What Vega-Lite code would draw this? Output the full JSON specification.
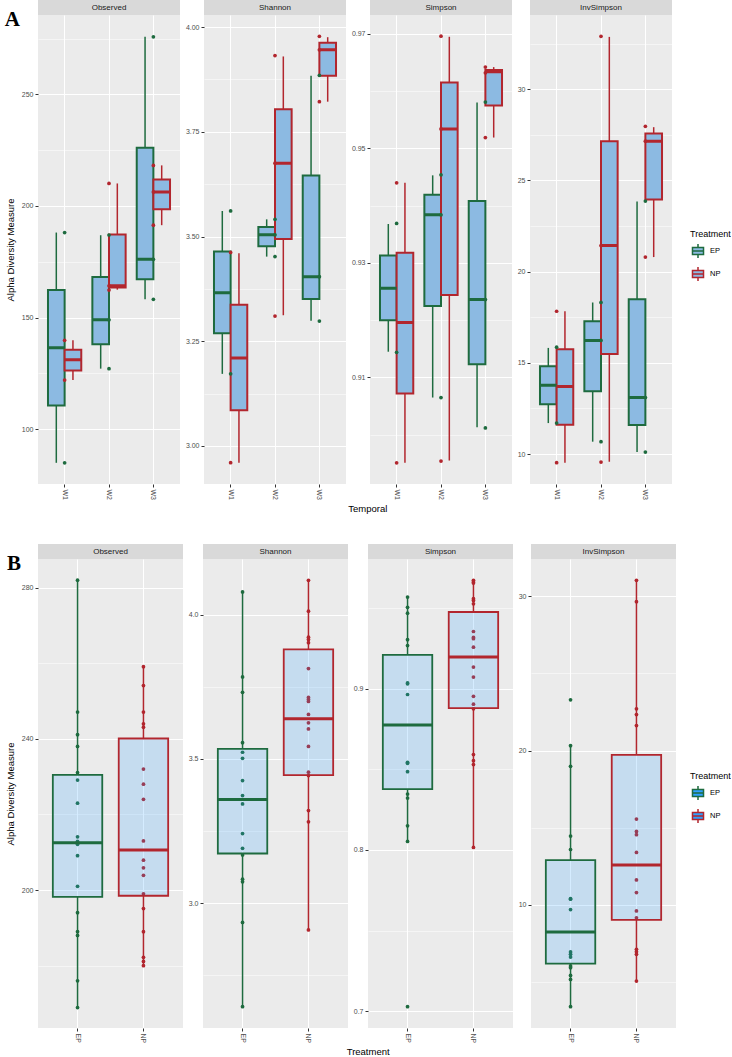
{
"$schema":"https://vega.github.io/schema/vega-lite/v6.json",
"padding":{"left":4,"top":0,"right":0,"bottom":0},
"config":{"font":"Liberation Sans","view":{"stroke":null},
 "axis":{"labelFont":"Liberation Sans","labelFontSize":7,"labelColor":"#4D4D4D","tickColor":"#333333","tickSize":3,"domain":false,"gridColor":"#FFFFFF","labelPadding":2,"titleFont":"Liberation Sans","titleFontSize":9.5,"titleFontWeight":"normal","titleColor":"#000000","labelOverlap":false,"labelFlush":false},
 "legend":{"titleFontSize":9,"titleFontWeight":"normal","titleColor":"#000000","titleFont":"Liberation Sans","labelFontSize":7.5,"labelColor":"#000000","labelFont":"Liberation Sans"},
 "title":{"font":"Liberation Sans","fontSize":9.5,"fontWeight":"normal","color":"#000000"}},
"datasets":{
"boxA":[
{"measure":"Observed","Temporal":"W1","Treatment":"EP","lo":84.9,"q1":110.6,"med":136.5,"q3":162.4,"hi":188.1},
{"measure":"Observed","Temporal":"W1","Treatment":"NP","lo":122.0,"q1":126.3,"med":131.1,"q3":135.6,"hi":139.8},
{"measure":"Observed","Temporal":"W2","Treatment":"EP","lo":127.1,"q1":138.0,"med":149.0,"q3":168.2,"hi":186.9},
{"measure":"Observed","Temporal":"W2","Treatment":"NP","lo":162.5,"q1":163.5,"med":164.2,"q3":187.2,"hi":210.1},
{"measure":"Observed","Temporal":"W3","Treatment":"EP","lo":158.2,"q1":167.2,"med":176.1,"q3":226.1,"hi":275.8},
{"measure":"Observed","Temporal":"W3","Treatment":"NP","lo":191.4,"q1":198.5,"med":206.3,"q3":211.9,"hi":218.2},
{"measure":"Shannon","Temporal":"W1","Treatment":"EP","lo":3.172,"q1":3.269,"med":3.366,"q3":3.464,"hi":3.561},
{"measure":"Shannon","Temporal":"W1","Treatment":"NP","lo":2.960,"q1":3.085,"med":3.210,"q3":3.337,"hi":3.460},
{"measure":"Shannon","Temporal":"W2","Treatment":"EP","lo":3.452,"q1":3.477,"med":3.504,"q3":3.523,"hi":3.541},
{"measure":"Shannon","Temporal":"W2","Treatment":"NP","lo":3.312,"q1":3.494,"med":3.675,"q3":3.804,"hi":3.930},
{"measure":"Shannon","Temporal":"W3","Treatment":"EP","lo":3.299,"q1":3.351,"med":3.404,"q3":3.646,"hi":3.884},
{"measure":"Shannon","Temporal":"W3","Treatment":"NP","lo":3.822,"q1":3.884,"med":3.946,"q3":3.963,"hi":3.976},
{"measure":"Simpson","Temporal":"W1","Treatment":"EP","lo":0.9145,"q1":0.9200,"med":0.9256,"q3":0.9313,"hi":0.9368},
{"measure":"Simpson","Temporal":"W1","Treatment":"NP","lo":0.8951,"q1":0.9072,"med":0.9196,"q3":0.9318,"hi":0.9440},
{"measure":"Simpson","Temporal":"W2","Treatment":"EP","lo":0.9065,"q1":0.9225,"med":0.9384,"q3":0.9419,"hi":0.9453},
{"measure":"Simpson","Temporal":"W2","Treatment":"NP","lo":0.8955,"q1":0.9244,"med":0.9534,"q3":0.9615,"hi":0.9695},
{"measure":"Simpson","Temporal":"W3","Treatment":"EP","lo":0.9013,"q1":0.9123,"med":0.9236,"q3":0.9408,"hi":0.9580},
{"measure":"Simpson","Temporal":"W3","Treatment":"NP","lo":0.9519,"q1":0.9575,"med":0.9634,"q3":0.9637,"hi":0.9642},
{"measure":"InvSimpson","Temporal":"W1","Treatment":"EP","lo":11.70,"q1":12.73,"med":13.78,"q3":14.81,"hi":15.82},
{"measure":"InvSimpson","Temporal":"W1","Treatment":"NP","lo":9.53,"q1":11.61,"med":13.70,"q3":15.75,"hi":17.83},
{"measure":"InvSimpson","Temporal":"W2","Treatment":"EP","lo":10.68,"q1":13.45,"med":16.23,"q3":17.28,"hi":18.31},
{"measure":"InvSimpson","Temporal":"W2","Treatment":"NP","lo":9.58,"q1":15.48,"med":21.43,"q3":27.15,"hi":32.87},
{"measure":"InvSimpson","Temporal":"W3","Treatment":"EP","lo":10.11,"q1":11.59,"med":13.10,"q3":18.49,"hi":23.85},
{"measure":"InvSimpson","Temporal":"W3","Treatment":"NP","lo":20.80,"q1":23.96,"med":27.15,"q3":27.58,"hi":27.92}
],
"ptsA":[
{"measure":"Observed","Temporal":"W1","Treatment":"EP","value":188.1},
{"measure":"Observed","Temporal":"W1","Treatment":"EP","value":84.9},
{"measure":"Observed","Temporal":"W1","Treatment":"NP","value":139.8},
{"measure":"Observed","Temporal":"W1","Treatment":"NP","value":122.0},
{"measure":"Observed","Temporal":"W2","Treatment":"EP","value":187.0},
{"measure":"Observed","Temporal":"W2","Treatment":"EP","value":149.0},
{"measure":"Observed","Temporal":"W2","Treatment":"EP","value":127.1},
{"measure":"Observed","Temporal":"W2","Treatment":"NP","value":210.1},
{"measure":"Observed","Temporal":"W2","Treatment":"NP","value":164.2},
{"measure":"Observed","Temporal":"W2","Treatment":"NP","value":162.3},
{"measure":"Observed","Temporal":"W3","Treatment":"EP","value":275.8},
{"measure":"Observed","Temporal":"W3","Treatment":"EP","value":176.1},
{"measure":"Observed","Temporal":"W3","Treatment":"EP","value":158.2},
{"measure":"Observed","Temporal":"W3","Treatment":"NP","value":218.2},
{"measure":"Observed","Temporal":"W3","Treatment":"NP","value":206.3},
{"measure":"Observed","Temporal":"W3","Treatment":"NP","value":191.4},
{"measure":"Shannon","Temporal":"W1","Treatment":"EP","value":3.561},
{"measure":"Shannon","Temporal":"W1","Treatment":"EP","value":3.172},
{"measure":"Shannon","Temporal":"W1","Treatment":"NP","value":3.462},
{"measure":"Shannon","Temporal":"W1","Treatment":"NP","value":2.960},
{"measure":"Shannon","Temporal":"W2","Treatment":"EP","value":3.541},
{"measure":"Shannon","Temporal":"W2","Treatment":"EP","value":3.504},
{"measure":"Shannon","Temporal":"W2","Treatment":"EP","value":3.452},
{"measure":"Shannon","Temporal":"W2","Treatment":"NP","value":3.932},
{"measure":"Shannon","Temporal":"W2","Treatment":"NP","value":3.675},
{"measure":"Shannon","Temporal":"W2","Treatment":"NP","value":3.310},
{"measure":"Shannon","Temporal":"W3","Treatment":"EP","value":3.885},
{"measure":"Shannon","Temporal":"W3","Treatment":"EP","value":3.404},
{"measure":"Shannon","Temporal":"W3","Treatment":"EP","value":3.298},
{"measure":"Shannon","Temporal":"W3","Treatment":"NP","value":3.978},
{"measure":"Shannon","Temporal":"W3","Treatment":"NP","value":3.946},
{"measure":"Shannon","Temporal":"W3","Treatment":"NP","value":3.822},
{"measure":"Simpson","Temporal":"W1","Treatment":"EP","value":0.9369},
{"measure":"Simpson","Temporal":"W1","Treatment":"EP","value":0.9144},
{"measure":"Simpson","Temporal":"W1","Treatment":"NP","value":0.9440},
{"measure":"Simpson","Temporal":"W1","Treatment":"NP","value":0.8951},
{"measure":"Simpson","Temporal":"W2","Treatment":"EP","value":0.9454},
{"measure":"Simpson","Temporal":"W2","Treatment":"EP","value":0.9384},
{"measure":"Simpson","Temporal":"W2","Treatment":"EP","value":0.9065},
{"measure":"Simpson","Temporal":"W2","Treatment":"NP","value":0.9696},
{"measure":"Simpson","Temporal":"W2","Treatment":"NP","value":0.9534},
{"measure":"Simpson","Temporal":"W2","Treatment":"NP","value":0.8954},
{"measure":"Simpson","Temporal":"W3","Treatment":"EP","value":0.9581},
{"measure":"Simpson","Temporal":"W3","Treatment":"EP","value":0.9236},
{"measure":"Simpson","Temporal":"W3","Treatment":"EP","value":0.9012},
{"measure":"Simpson","Temporal":"W3","Treatment":"NP","value":0.9642},
{"measure":"Simpson","Temporal":"W3","Treatment":"NP","value":0.9632},
{"measure":"Simpson","Temporal":"W3","Treatment":"NP","value":0.9519},
{"measure":"InvSimpson","Temporal":"W1","Treatment":"EP","value":15.86},
{"measure":"InvSimpson","Temporal":"W1","Treatment":"EP","value":11.70},
{"measure":"InvSimpson","Temporal":"W1","Treatment":"NP","value":17.83},
{"measure":"InvSimpson","Temporal":"W1","Treatment":"NP","value":9.53},
{"measure":"InvSimpson","Temporal":"W2","Treatment":"EP","value":18.31},
{"measure":"InvSimpson","Temporal":"W2","Treatment":"EP","value":16.23},
{"measure":"InvSimpson","Temporal":"W2","Treatment":"EP","value":10.68},
{"measure":"InvSimpson","Temporal":"W2","Treatment":"NP","value":32.9},
{"measure":"InvSimpson","Temporal":"W2","Treatment":"NP","value":21.43},
{"measure":"InvSimpson","Temporal":"W2","Treatment":"NP","value":9.56},
{"measure":"InvSimpson","Temporal":"W3","Treatment":"EP","value":23.87},
{"measure":"InvSimpson","Temporal":"W3","Treatment":"EP","value":13.10},
{"measure":"InvSimpson","Temporal":"W3","Treatment":"EP","value":10.11},
{"measure":"InvSimpson","Temporal":"W3","Treatment":"NP","value":27.97},
{"measure":"InvSimpson","Temporal":"W3","Treatment":"NP","value":27.15},
{"measure":"InvSimpson","Temporal":"W3","Treatment":"NP","value":20.80}
],
"boxB":[
{"measure":"Observed","Treatment":"EP","lo":168.9,"q1":198.2,"med":212.5,"q3":230.5,"hi":282.0},
{"measure":"Observed","Treatment":"NP","lo":180.0,"q1":198.5,"med":210.6,"q3":240.1,"hi":259.1},
{"measure":"Shannon","Treatment":"EP","lo":2.641,"q1":3.172,"med":3.359,"q3":3.535,"hi":4.079},
{"measure":"Shannon","Treatment":"NP","lo":2.907,"q1":3.444,"med":3.639,"q3":3.880,"hi":4.119},
{"measure":"Simpson","Treatment":"EP","lo":0.8053,"q1":0.8378,"med":0.8776,"q3":0.9211,"hi":0.9570},
{"measure":"Simpson","Treatment":"NP","lo":0.8016,"q1":0.8880,"med":0.9197,"q3":0.9477,"hi":0.9674},
{"measure":"InvSimpson","Treatment":"EP","lo":3.40,"q1":6.19,"med":8.25,"q3":12.90,"hi":20.32},
{"measure":"InvSimpson","Treatment":"NP","lo":5.06,"q1":9.03,"med":12.58,"q3":19.72,"hi":31.04}
],
"ptsB":[
{"measure":"Observed","Treatment":"EP","value":282.0},{"measure":"Observed","Treatment":"EP","value":247.1},{"measure":"Observed","Treatment":"EP","value":241.1},{"measure":"Observed","Treatment":"EP","value":238.0},{"measure":"Observed","Treatment":"EP","value":231.1},{"measure":"Observed","Treatment":"EP","value":229.1},{"measure":"Observed","Treatment":"EP","value":223.0},{"measure":"Observed","Treatment":"EP","value":214.1},{"measure":"Observed","Treatment":"EP","value":212.9},{"measure":"Observed","Treatment":"EP","value":212.1},{"measure":"Observed","Treatment":"EP","value":209.1},{"measure":"Observed","Treatment":"EP","value":201.0},{"measure":"Observed","Treatment":"EP","value":194.0},{"measure":"Observed","Treatment":"EP","value":189.0},{"measure":"Observed","Treatment":"EP","value":188.0},{"measure":"Observed","Treatment":"EP","value":176.0},{"measure":"Observed","Treatment":"EP","value":168.9},
{"measure":"Observed","Treatment":"NP","value":259.1},{"measure":"Observed","Treatment":"NP","value":254.1},{"measure":"Observed","Treatment":"NP","value":247.1},{"measure":"Observed","Treatment":"NP","value":244.0},{"measure":"Observed","Treatment":"NP","value":243.1},{"measure":"Observed","Treatment":"NP","value":232.0},{"measure":"Observed","Treatment":"NP","value":228.0},{"measure":"Observed","Treatment":"NP","value":224.0},{"measure":"Observed","Treatment":"NP","value":213.0},{"measure":"Observed","Treatment":"NP","value":207.9},{"measure":"Observed","Treatment":"NP","value":205.9},{"measure":"Observed","Treatment":"NP","value":203.9},{"measure":"Observed","Treatment":"NP","value":199.0},{"measure":"Observed","Treatment":"NP","value":195.1},{"measure":"Observed","Treatment":"NP","value":189.0},{"measure":"Observed","Treatment":"NP","value":182.2},{"measure":"Observed","Treatment":"NP","value":181.1},{"measure":"Observed","Treatment":"NP","value":180.0},
{"measure":"Shannon","Treatment":"EP","value":4.079},{"measure":"Shannon","Treatment":"EP","value":3.784},{"measure":"Shannon","Treatment":"EP","value":3.731},{"measure":"Shannon","Treatment":"EP","value":3.556},{"measure":"Shannon","Treatment":"EP","value":3.523},{"measure":"Shannon","Treatment":"EP","value":3.502},{"measure":"Shannon","Treatment":"EP","value":3.425},{"measure":"Shannon","Treatment":"EP","value":3.373},{"measure":"Shannon","Treatment":"EP","value":3.344},{"measure":"Shannon","Treatment":"EP","value":3.241},{"measure":"Shannon","Treatment":"EP","value":3.190},{"measure":"Shannon","Treatment":"EP","value":3.167},{"measure":"Shannon","Treatment":"EP","value":3.083},{"measure":"Shannon","Treatment":"EP","value":3.074},{"measure":"Shannon","Treatment":"EP","value":2.933},{"measure":"Shannon","Treatment":"EP","value":2.641},
{"measure":"Shannon","Treatment":"NP","value":4.119},{"measure":"Shannon","Treatment":"NP","value":4.012},{"measure":"Shannon","Treatment":"NP","value":3.922},{"measure":"Shannon","Treatment":"NP","value":3.914},{"measure":"Shannon","Treatment":"NP","value":3.903},{"measure":"Shannon","Treatment":"NP","value":3.813},{"measure":"Shannon","Treatment":"NP","value":3.713},{"measure":"Shannon","Treatment":"NP","value":3.706},{"measure":"Shannon","Treatment":"NP","value":3.699},{"measure":"Shannon","Treatment":"NP","value":3.654},{"measure":"Shannon","Treatment":"NP","value":3.625},{"measure":"Shannon","Treatment":"NP","value":3.604},{"measure":"Shannon","Treatment":"NP","value":3.543},{"measure":"Shannon","Treatment":"NP","value":3.454},{"measure":"Shannon","Treatment":"NP","value":3.442},{"measure":"Shannon","Treatment":"NP","value":3.321},{"measure":"Shannon","Treatment":"NP","value":3.282},{"measure":"Shannon","Treatment":"NP","value":2.907},
{"measure":"Simpson","Treatment":"EP","value":0.9570},{"measure":"Simpson","Treatment":"EP","value":0.9506},{"measure":"Simpson","Treatment":"EP","value":0.9470},{"measure":"Simpson","Treatment":"EP","value":0.9305},{"measure":"Simpson","Treatment":"EP","value":0.9269},{"measure":"Simpson","Treatment":"EP","value":0.9037},{"measure":"Simpson","Treatment":"EP","value":0.9031},{"measure":"Simpson","Treatment":"EP","value":0.8965},{"measure":"Simpson","Treatment":"EP","value":0.8544},{"measure":"Simpson","Treatment":"EP","value":0.8538},{"measure":"Simpson","Treatment":"EP","value":0.8486},{"measure":"Simpson","Treatment":"EP","value":0.8347},{"measure":"Simpson","Treatment":"EP","value":0.8322},{"measure":"Simpson","Treatment":"EP","value":0.8150},{"measure":"Simpson","Treatment":"EP","value":0.8053},{"measure":"Simpson","Treatment":"EP","value":0.7027},
{"measure":"Simpson","Treatment":"NP","value":0.9674},{"measure":"Simpson","Treatment":"NP","value":0.9663},{"measure":"Simpson","Treatment":"NP","value":0.9657},{"measure":"Simpson","Treatment":"NP","value":0.9560},{"measure":"Simpson","Treatment":"NP","value":0.9549},{"measure":"Simpson","Treatment":"NP","value":0.9528},{"measure":"Simpson","Treatment":"NP","value":0.9356},{"measure":"Simpson","Treatment":"NP","value":0.9319},{"measure":"Simpson","Treatment":"NP","value":0.9311},{"measure":"Simpson","Treatment":"NP","value":0.9259},{"measure":"Simpson","Treatment":"NP","value":0.9135},{"measure":"Simpson","Treatment":"NP","value":0.9073},{"measure":"Simpson","Treatment":"NP","value":0.8954},{"measure":"Simpson","Treatment":"NP","value":0.8905},{"measure":"Simpson","Treatment":"NP","value":0.8876},{"measure":"Simpson","Treatment":"NP","value":0.8592},{"measure":"Simpson","Treatment":"NP","value":0.8554},{"measure":"Simpson","Treatment":"NP","value":0.8530},{"measure":"Simpson","Treatment":"NP","value":0.8016},
{"measure":"InvSimpson","Treatment":"EP","value":23.29},{"measure":"InvSimpson","Treatment":"EP","value":20.32},{"measure":"InvSimpson","Treatment":"EP","value":18.98},{"measure":"InvSimpson","Treatment":"EP","value":14.46},{"measure":"InvSimpson","Treatment":"EP","value":13.59},{"measure":"InvSimpson","Treatment":"EP","value":10.41},{"measure":"InvSimpson","Treatment":"EP","value":10.37},{"measure":"InvSimpson","Treatment":"EP","value":9.70},{"measure":"InvSimpson","Treatment":"EP","value":6.95},{"measure":"InvSimpson","Treatment":"EP","value":6.80},{"measure":"InvSimpson","Treatment":"EP","value":6.62},{"measure":"InvSimpson","Treatment":"EP","value":6.04},{"measure":"InvSimpson","Treatment":"EP","value":5.93},{"measure":"InvSimpson","Treatment":"EP","value":5.43},{"measure":"InvSimpson","Treatment":"EP","value":5.17},{"measure":"InvSimpson","Treatment":"EP","value":3.40},
{"measure":"InvSimpson","Treatment":"NP","value":31.04},{"measure":"InvSimpson","Treatment":"NP","value":29.65},{"measure":"InvSimpson","Treatment":"NP","value":22.71},{"measure":"InvSimpson","Treatment":"NP","value":22.34},{"measure":"InvSimpson","Treatment":"NP","value":21.62},{"measure":"InvSimpson","Treatment":"NP","value":15.56},{"measure":"InvSimpson","Treatment":"NP","value":14.76},{"measure":"InvSimpson","Treatment":"NP","value":14.55},{"measure":"InvSimpson","Treatment":"NP","value":13.40},{"measure":"InvSimpson","Treatment":"NP","value":11.62},{"measure":"InvSimpson","Treatment":"NP","value":10.80},{"measure":"InvSimpson","Treatment":"NP","value":9.61},{"measure":"InvSimpson","Treatment":"NP","value":9.16},{"measure":"InvSimpson","Treatment":"NP","value":7.12},{"measure":"InvSimpson","Treatment":"NP","value":6.97},{"measure":"InvSimpson","Treatment":"NP","value":6.80},{"measure":"InvSimpson","Treatment":"NP","value":5.06}
]
},
"resolve":{"legend":{"stroke":"independent"}},
"spacing":31,
"vconcat":[
{"title":{"text":"Temporal","orient":"bottom","anchor":"middle","offset":4},
 "spacing":5,
 "hconcat":[
  {"spacing":0,"bounds":"flush","vconcat":[
   {"width":142,"height":15,"view":{"fill":"#D9D9D9","stroke":null},
    "title":{"text":"A","orient":"left","angle":0,"align":"right","baseline":"middle","anchor":"middle","font":"Liberation Serif","fontSize":21,"fontWeight":"bold","color":"#000000","offset":3,"dy":12},
    "data":{"values":[{"measure":"Observed"}]},
    "mark":{"type":"text","fontSize":8,"fill":"#1A1A1A"},
    "encoding":{"text":{"field":"measure","type":"nominal"}}},
   {"width":142,"height":469,"view":{"fill":"#EBEBEB","stroke":null},
    "encoding":{"x":{"field":"Temporal","type":"nominal","scale":{"paddingInner":0.25,"paddingOuter":0.225},"axis":{"title":null,"labelAngle":90,"labelAlign":"left","labelBaseline":"middle","grid":true,"gridWidth":1,"bandPosition":0.5}}},
    "layer":[
     {"data":{"name":"boxA"},"transform":[{"filter":"datum.measure == 'Observed'"}],"mark":{"type":"rule","strokeWidth":1.5},"encoding":{"xOffset":{"field":"Treatment","type":"nominal"},"y":{"field":"lo","type":"quantitative","scale":{"domain":[75.4,285.6],"nice":false,"zero":false},"axis":{"title":"Alpha Diversity Measure","titlePadding":6,"values":[100,125,150,175,200,225,250,275],"format":"d","labelExpr":"indexof([100,150,200,250], datum.value) >= 0 ? datum.label : ''","tickOpacity":{"condition":{"test":"indexof([100,150,200,250], datum.value) < 0","value":0},"value":1},"gridWidth":{"condition":{"test":"indexof([100,150,200,250], datum.value) < 0","value":0.5},"value":1}}},"y2":{"field":"q1"},"stroke":{"field":"Treatment","type":"nominal","scale":{"domain":["EP","NP"],"range":["#1E6B3F","#B2262E"]}}}},
     {"data":{"name":"boxA"},"transform":[{"filter":"datum.measure == 'Observed'"}],"mark":{"type":"rule","strokeWidth":1.5},"encoding":{"xOffset":{"field":"Treatment","type":"nominal"},"y":{"field":"q3","type":"quantitative"},"y2":{"field":"hi"},"stroke":{"field":"Treatment","type":"nominal"}}},
     {"data":{"name":"boxA"},"transform":[{"filter":"datum.measure == 'Observed'"}],"mark":{"type":"bar","fill":"#8CBAE2","strokeWidth":2},"encoding":{"xOffset":{"field":"Treatment","type":"nominal"},"y":{"field":"q1","type":"quantitative"},"y2":{"field":"q3"},"stroke":{"field":"Treatment","type":"nominal","legend":{"title":"Treatment","orient":"none","legendX":652,"legendY":230,"symbolType":"M-0.8,-0.5H0.8V0.5H-0.8Z M-0.8,0H0.8 M0,-0.5V-1 M0,0.5V1","symbolSize":190,"symbolStrokeWidth":1.5,"symbolFillColor":"#8CBAE2","rowPadding":3,"titlePadding":4}}}},
     {"data":{"name":"boxA"},"transform":[{"filter":"datum.measure == 'Observed'"}],"mark":{"type":"bar","fillOpacity":0,"strokeWidth":3},"encoding":{"xOffset":{"field":"Treatment","type":"nominal"},"y":{"field":"med","type":"quantitative"},"y2":{"field":"med"},"stroke":{"field":"Treatment","type":"nominal"}}},
     {"data":{"name":"ptsA"},"transform":[{"filter":"datum.measure == 'Observed'"}],"mark":{"type":"circle","size":14,"opacity":1},"encoding":{"y":{"field":"value","type":"quantitative"},"fill":{"field":"Treatment","type":"nominal","scale":{"domain":["EP","NP"],"range":["#1E6B3F","#B2262E"]},"legend":null}}}
    ]}
  ]},
  {"spacing":0,"bounds":"flush","vconcat":[
   {"width":142,"height":15,"view":{"fill":"#D9D9D9","stroke":null},
    "data":{"values":[{"measure":"Shannon"}]},
    "mark":{"type":"text","fontSize":8,"fill":"#1A1A1A"},
    "encoding":{"text":{"field":"measure","type":"nominal"}}},
   {"width":142,"height":469,"view":{"fill":"#EBEBEB","stroke":null},
    "encoding":{"x":{"field":"Temporal","type":"nominal","scale":{"paddingInner":0.25,"paddingOuter":0.225},"axis":{"title":null,"labelAngle":90,"labelAlign":"left","labelBaseline":"middle","grid":true,"gridWidth":1,"bandPosition":0.5}}},
    "layer":[
     {"data":{"name":"boxA"},"transform":[{"filter":"datum.measure == 'Shannon'"}],"mark":{"type":"rule","strokeWidth":1.5},"encoding":{"xOffset":{"field":"Treatment","type":"nominal"},"y":{"field":"lo","type":"quantitative","scale":{"domain":[2.909,4.029],"nice":false,"zero":false},"axis":{"title":null,"values":[3,3.125,3.25,3.375,3.5,3.625,3.75,3.875,4],"format":".2f","labelExpr":"indexof([3,3.25,3.5,3.75,4], datum.value) >= 0 ? datum.label : ''","tickOpacity":{"condition":{"test":"indexof([3,3.25,3.5,3.75,4], datum.value) < 0","value":0},"value":1},"gridWidth":{"condition":{"test":"indexof([3,3.25,3.5,3.75,4], datum.value) < 0","value":0.5},"value":1}}},"y2":{"field":"q1"},"stroke":{"field":"Treatment","type":"nominal","scale":{"domain":["EP","NP"],"range":["#1E6B3F","#B2262E"]}}}},
     {"data":{"name":"boxA"},"transform":[{"filter":"datum.measure == 'Shannon'"}],"mark":{"type":"rule","strokeWidth":1.5},"encoding":{"xOffset":{"field":"Treatment","type":"nominal"},"y":{"field":"q3","type":"quantitative"},"y2":{"field":"hi"},"stroke":{"field":"Treatment","type":"nominal"}}},
     {"data":{"name":"boxA"},"transform":[{"filter":"datum.measure == 'Shannon'"}],"mark":{"type":"bar","fill":"#8CBAE2","strokeWidth":2},"encoding":{"xOffset":{"field":"Treatment","type":"nominal"},"y":{"field":"q1","type":"quantitative"},"y2":{"field":"q3"},"stroke":{"field":"Treatment","type":"nominal"}}},
     {"data":{"name":"boxA"},"transform":[{"filter":"datum.measure == 'Shannon'"}],"mark":{"type":"bar","fillOpacity":0,"strokeWidth":3},"encoding":{"xOffset":{"field":"Treatment","type":"nominal"},"y":{"field":"med","type":"quantitative"},"y2":{"field":"med"},"stroke":{"field":"Treatment","type":"nominal"}}},
     {"data":{"name":"ptsA"},"transform":[{"filter":"datum.measure == 'Shannon'"}],"mark":{"type":"circle","size":14,"opacity":1},"encoding":{"y":{"field":"value","type":"quantitative"},"fill":{"field":"Treatment","type":"nominal","scale":{"domain":["EP","NP"],"range":["#1E6B3F","#B2262E"]},"legend":null}}}
    ]}
  ]},
  {"spacing":0,"bounds":"flush","vconcat":[
   {"width":142,"height":15,"view":{"fill":"#D9D9D9","stroke":null},
    "data":{"values":[{"measure":"Simpson"}]},
    "mark":{"type":"text","fontSize":8,"fill":"#1A1A1A"},
    "encoding":{"text":{"field":"measure","type":"nominal"}}},
   {"width":142,"height":469,"view":{"fill":"#EBEBEB","stroke":null},
    "encoding":{"x":{"field":"Temporal","type":"nominal","scale":{"paddingInner":0.25,"paddingOuter":0.225},"axis":{"title":null,"labelAngle":90,"labelAlign":"left","labelBaseline":"middle","grid":true,"gridWidth":1,"bandPosition":0.5}}},
    "layer":[
     {"data":{"name":"boxA"},"transform":[{"filter":"datum.measure == 'Simpson'"}],"mark":{"type":"rule","strokeWidth":1.5},"encoding":{"xOffset":{"field":"Treatment","type":"nominal"},"y":{"field":"lo","type":"quantitative","scale":{"domain":[0.8914,0.9733],"nice":false,"zero":false},"axis":{"title":null,"values":[0.9,0.91,0.92,0.93,0.94,0.95,0.96,0.97],"format":".2f","labelExpr":"indexof([0.91,0.93,0.95,0.97], datum.value) >= 0 ? datum.label : ''","tickOpacity":{"condition":{"test":"indexof([0.91,0.93,0.95,0.97], datum.value) < 0","value":0},"value":1},"gridWidth":{"condition":{"test":"indexof([0.91,0.93,0.95,0.97], datum.value) < 0","value":0.5},"value":1}}},"y2":{"field":"q1"},"stroke":{"field":"Treatment","type":"nominal","scale":{"domain":["EP","NP"],"range":["#1E6B3F","#B2262E"]}}}},
     {"data":{"name":"boxA"},"transform":[{"filter":"datum.measure == 'Simpson'"}],"mark":{"type":"rule","strokeWidth":1.5},"encoding":{"xOffset":{"field":"Treatment","type":"nominal"},"y":{"field":"q3","type":"quantitative"},"y2":{"field":"hi"},"stroke":{"field":"Treatment","type":"nominal"}}},
     {"data":{"name":"boxA"},"transform":[{"filter":"datum.measure == 'Simpson'"}],"mark":{"type":"bar","fill":"#8CBAE2","strokeWidth":2},"encoding":{"xOffset":{"field":"Treatment","type":"nominal"},"y":{"field":"q1","type":"quantitative"},"y2":{"field":"q3"},"stroke":{"field":"Treatment","type":"nominal"}}},
     {"data":{"name":"boxA"},"transform":[{"filter":"datum.measure == 'Simpson'"}],"mark":{"type":"bar","fillOpacity":0,"strokeWidth":3},"encoding":{"xOffset":{"field":"Treatment","type":"nominal"},"y":{"field":"med","type":"quantitative"},"y2":{"field":"med"},"stroke":{"field":"Treatment","type":"nominal"}}},
     {"data":{"name":"ptsA"},"transform":[{"filter":"datum.measure == 'Simpson'"}],"mark":{"type":"circle","size":14,"opacity":1},"encoding":{"y":{"field":"value","type":"quantitative"},"fill":{"field":"Treatment","type":"nominal","scale":{"domain":["EP","NP"],"range":["#1E6B3F","#B2262E"]},"legend":null}}}
    ]}
  ]},
  {"spacing":0,"bounds":"flush","vconcat":[
   {"width":142,"height":15,"view":{"fill":"#D9D9D9","stroke":null},
    "data":{"values":[{"measure":"InvSimpson"}]},
    "mark":{"type":"text","fontSize":8,"fill":"#1A1A1A"},
    "encoding":{"text":{"field":"measure","type":"nominal"}}},
   {"width":142,"height":469,"view":{"fill":"#EBEBEB","stroke":null},
    "encoding":{"x":{"field":"Temporal","type":"nominal","scale":{"paddingInner":0.25,"paddingOuter":0.225},"axis":{"title":null,"labelAngle":90,"labelAlign":"left","labelBaseline":"middle","grid":true,"gridWidth":1,"bandPosition":0.5}}},
    "layer":[
     {"data":{"name":"boxA"},"transform":[{"filter":"datum.measure == 'InvSimpson'"}],"mark":{"type":"rule","strokeWidth":1.5},"encoding":{"xOffset":{"field":"Treatment","type":"nominal"},"y":{"field":"lo","type":"quantitative","scale":{"domain":[8.36,34.07],"nice":false,"zero":false},"axis":{"title":null,"values":[10,12.5,15,17.5,20,22.5,25,27.5,30,32.5],"format":"d","labelExpr":"indexof([10,15,20,25,30], datum.value) >= 0 ? datum.label : ''","tickOpacity":{"condition":{"test":"indexof([10,15,20,25,30], datum.value) < 0","value":0},"value":1},"gridWidth":{"condition":{"test":"indexof([10,15,20,25,30], datum.value) < 0","value":0.5},"value":1}}},"y2":{"field":"q1"},"stroke":{"field":"Treatment","type":"nominal","scale":{"domain":["EP","NP"],"range":["#1E6B3F","#B2262E"]}}}},
     {"data":{"name":"boxA"},"transform":[{"filter":"datum.measure == 'InvSimpson'"}],"mark":{"type":"rule","strokeWidth":1.5},"encoding":{"xOffset":{"field":"Treatment","type":"nominal"},"y":{"field":"q3","type":"quantitative"},"y2":{"field":"hi"},"stroke":{"field":"Treatment","type":"nominal"}}},
     {"data":{"name":"boxA"},"transform":[{"filter":"datum.measure == 'InvSimpson'"}],"mark":{"type":"bar","fill":"#8CBAE2","strokeWidth":2},"encoding":{"xOffset":{"field":"Treatment","type":"nominal"},"y":{"field":"q1","type":"quantitative"},"y2":{"field":"q3"},"stroke":{"field":"Treatment","type":"nominal"}}},
     {"data":{"name":"boxA"},"transform":[{"filter":"datum.measure == 'InvSimpson'"}],"mark":{"type":"bar","fillOpacity":0,"strokeWidth":3},"encoding":{"xOffset":{"field":"Treatment","type":"nominal"},"y":{"field":"med","type":"quantitative"},"y2":{"field":"med"},"stroke":{"field":"Treatment","type":"nominal"}}},
     {"data":{"name":"ptsA"},"transform":[{"filter":"datum.measure == 'InvSimpson'"}],"mark":{"type":"circle","size":14,"opacity":1},"encoding":{"y":{"field":"value","type":"quantitative"},"fill":{"field":"Treatment","type":"nominal","scale":{"domain":["EP","NP"],"range":["#1E6B3F","#B2262E"]},"legend":null}}}
    ]}
  ]}
 ]},
{"title":{"text":"Treatment","orient":"bottom","anchor":"middle","offset":4},
 "spacing":5,
 "hconcat":[
  {"spacing":0,"bounds":"flush","vconcat":[
   {"width":145,"height":15,"view":{"fill":"#D9D9D9","stroke":null},
    "title":{"text":"B","orient":"left","angle":0,"align":"right","baseline":"middle","anchor":"middle","font":"Liberation Serif","fontSize":21,"fontWeight":"bold","color":"#000000","offset":3,"dy":12},
    "data":{"values":[{"measure":"Observed"}]},
    "mark":{"type":"text","fontSize":8,"fill":"#1A1A1A"},
    "encoding":{"text":{"field":"measure","type":"nominal"}}},
   {"width":145,"height":469,"view":{"fill":"#EBEBEB","stroke":null},
    "encoding":{"x":{"field":"Treatment","type":"nominal","scale":{"paddingInner":0.25,"paddingOuter":0.225},"axis":{"title":null,"labelAngle":90,"labelAlign":"left","labelBaseline":"middle","grid":true,"gridWidth":1,"bandPosition":0.5}}},
    "layer":[
     {"data":{"name":"ptsB"},"transform":[{"filter":"datum.measure == 'Observed'"}],"mark":{"type":"circle","size":14,"opacity":1},"encoding":{"y":{"field":"value","type":"quantitative","scale":{"domain":[163.5,287.6],"nice":false,"zero":false},"axis":{"title":"Alpha Diversity Measure","titlePadding":6,"values":[180,200,220,240,260,280],"format":"d","labelExpr":"indexof([200,240,280], datum.value) >= 0 ? datum.label : ''","tickOpacity":{"condition":{"test":"indexof([200,240,280], datum.value) < 0","value":0},"value":1},"gridWidth":{"condition":{"test":"indexof([200,240,280], datum.value) < 0","value":0.5},"value":1}}},"fill":{"field":"Treatment","type":"nominal","scale":{"domain":["EP","NP"],"range":["#1E6B3F","#B2262E"]},"legend":null}}},
     {"data":{"name":"boxB"},"transform":[{"filter":"datum.measure == 'Observed'"}],"mark":{"type":"rule","strokeWidth":1.5},"encoding":{"y":{"field":"lo","type":"quantitative"},"y2":{"field":"q1"},"stroke":{"field":"Treatment","type":"nominal","scale":{"domain":["EP","NP"],"range":["#1E6B3F","#B2262E"]}}}},
     {"data":{"name":"boxB"},"transform":[{"filter":"datum.measure == 'Observed'"}],"mark":{"type":"rule","strokeWidth":1.5},"encoding":{"y":{"field":"q3","type":"quantitative"},"y2":{"field":"hi"},"stroke":{"field":"Treatment","type":"nominal"}}},
     {"data":{"name":"boxB"},"transform":[{"filter":"datum.measure == 'Observed'"}],"mark":{"type":"bar","fill":"#2DA0FF","fillOpacity":0.2,"strokeWidth":1.8},"encoding":{"y":{"field":"q1","type":"quantitative"},"y2":{"field":"q3"},"stroke":{"field":"Treatment","type":"nominal","legend":{"title":"Treatment","orient":"none","legendX":652,"legendY":228,"symbolType":"M-0.8,-0.5H0.8V0.5H-0.8Z M-0.8,0H0.8 M0,-0.5V-1 M0,0.5V1","symbolSize":190,"symbolStrokeWidth":1.5,"symbolFillColor":"#8CBAE2","rowPadding":3,"titlePadding":4}}}},
     {"data":{"name":"boxB"},"transform":[{"filter":"datum.measure == 'Observed'"}],"mark":{"type":"bar","fillOpacity":0,"strokeWidth":3},"encoding":{"y":{"field":"med","type":"quantitative"},"y2":{"field":"med"},"stroke":{"field":"Treatment","type":"nominal"}}}
    ]}
  ]},
  {"spacing":0,"bounds":"flush","vconcat":[
   {"width":145,"height":15,"view":{"fill":"#D9D9D9","stroke":null},
    "data":{"values":[{"measure":"Shannon"}]},
    "mark":{"type":"text","fontSize":8,"fill":"#1A1A1A"},
    "encoding":{"text":{"field":"measure","type":"nominal"}}},
   {"width":145,"height":469,"view":{"fill":"#EBEBEB","stroke":null},
    "encoding":{"x":{"field":"Treatment","type":"nominal","scale":{"paddingInner":0.25,"paddingOuter":0.225},"axis":{"title":null,"labelAngle":90,"labelAlign":"left","labelBaseline":"middle","grid":true,"gridWidth":1,"bandPosition":0.5}}},
    "layer":[
     {"data":{"name":"ptsB"},"transform":[{"filter":"datum.measure == 'Shannon'"}],"mark":{"type":"circle","size":14,"opacity":1},"encoding":{"y":{"field":"value","type":"quantitative","scale":{"domain":[2.567,4.193],"nice":false,"zero":false},"axis":{"title":null,"values":[2.75,3,3.25,3.5,3.75,4],"format":".1f","labelExpr":"indexof([3,3.5,4], datum.value) >= 0 ? datum.label : ''","tickOpacity":{"condition":{"test":"indexof([3,3.5,4], datum.value) < 0","value":0},"value":1},"gridWidth":{"condition":{"test":"indexof([3,3.5,4], datum.value) < 0","value":0.5},"value":1}}},"fill":{"field":"Treatment","type":"nominal","scale":{"domain":["EP","NP"],"range":["#1E6B3F","#B2262E"]},"legend":null}}},
     {"data":{"name":"boxB"},"transform":[{"filter":"datum.measure == 'Shannon'"}],"mark":{"type":"rule","strokeWidth":1.5},"encoding":{"y":{"field":"lo","type":"quantitative"},"y2":{"field":"q1"},"stroke":{"field":"Treatment","type":"nominal","scale":{"domain":["EP","NP"],"range":["#1E6B3F","#B2262E"]}}}},
     {"data":{"name":"boxB"},"transform":[{"filter":"datum.measure == 'Shannon'"}],"mark":{"type":"rule","strokeWidth":1.5},"encoding":{"y":{"field":"q3","type":"quantitative"},"y2":{"field":"hi"},"stroke":{"field":"Treatment","type":"nominal"}}},
     {"data":{"name":"boxB"},"transform":[{"filter":"datum.measure == 'Shannon'"}],"mark":{"type":"bar","fill":"#2DA0FF","fillOpacity":0.2,"strokeWidth":1.8},"encoding":{"y":{"field":"q1","type":"quantitative"},"y2":{"field":"q3"},"stroke":{"field":"Treatment","type":"nominal"}}},
     {"data":{"name":"boxB"},"transform":[{"filter":"datum.measure == 'Shannon'"}],"mark":{"type":"bar","fillOpacity":0,"strokeWidth":3},"encoding":{"y":{"field":"med","type":"quantitative"},"y2":{"field":"med"},"stroke":{"field":"Treatment","type":"nominal"}}}
    ]}
  ]},
  {"spacing":0,"bounds":"flush","vconcat":[
   {"width":145,"height":15,"view":{"fill":"#D9D9D9","stroke":null},
    "data":{"values":[{"measure":"Simpson"}]},
    "mark":{"type":"text","fontSize":8,"fill":"#1A1A1A"},
    "encoding":{"text":{"field":"measure","type":"nominal"}}},
   {"width":145,"height":469,"view":{"fill":"#EBEBEB","stroke":null},
    "encoding":{"x":{"field":"Treatment","type":"nominal","scale":{"paddingInner":0.25,"paddingOuter":0.225},"axis":{"title":null,"labelAngle":90,"labelAlign":"left","labelBaseline":"middle","grid":true,"gridWidth":1,"bandPosition":0.5}}},
    "layer":[
     {"data":{"name":"ptsB"},"transform":[{"filter":"datum.measure == 'Simpson'"}],"mark":{"type":"circle","size":14,"opacity":1},"encoding":{"y":{"field":"value","type":"quantitative","scale":{"domain":[0.6895,0.9806],"nice":false,"zero":false},"axis":{"title":null,"values":[0.7,0.75,0.8,0.85,0.9,0.95],"format":".1f","labelExpr":"indexof([0.7,0.8,0.9], datum.value) >= 0 ? datum.label : ''","tickOpacity":{"condition":{"test":"indexof([0.7,0.8,0.9], datum.value) < 0","value":0},"value":1},"gridWidth":{"condition":{"test":"indexof([0.7,0.8,0.9], datum.value) < 0","value":0.5},"value":1}}},"fill":{"field":"Treatment","type":"nominal","scale":{"domain":["EP","NP"],"range":["#1E6B3F","#B2262E"]},"legend":null}}},
     {"data":{"name":"boxB"},"transform":[{"filter":"datum.measure == 'Simpson'"}],"mark":{"type":"rule","strokeWidth":1.5},"encoding":{"y":{"field":"lo","type":"quantitative"},"y2":{"field":"q1"},"stroke":{"field":"Treatment","type":"nominal","scale":{"domain":["EP","NP"],"range":["#1E6B3F","#B2262E"]}}}},
     {"data":{"name":"boxB"},"transform":[{"filter":"datum.measure == 'Simpson'"}],"mark":{"type":"rule","strokeWidth":1.5},"encoding":{"y":{"field":"q3","type":"quantitative"},"y2":{"field":"hi"},"stroke":{"field":"Treatment","type":"nominal"}}},
     {"data":{"name":"boxB"},"transform":[{"filter":"datum.measure == 'Simpson'"}],"mark":{"type":"bar","fill":"#2DA0FF","fillOpacity":0.2,"strokeWidth":1.8},"encoding":{"y":{"field":"q1","type":"quantitative"},"y2":{"field":"q3"},"stroke":{"field":"Treatment","type":"nominal"}}},
     {"data":{"name":"boxB"},"transform":[{"filter":"datum.measure == 'Simpson'"}],"mark":{"type":"bar","fillOpacity":0,"strokeWidth":3},"encoding":{"y":{"field":"med","type":"quantitative"},"y2":{"field":"med"},"stroke":{"field":"Treatment","type":"nominal"}}}
    ]}
  ]},
  {"spacing":0,"bounds":"flush","vconcat":[
   {"width":145,"height":15,"view":{"fill":"#D9D9D9","stroke":null},
    "data":{"values":[{"measure":"InvSimpson"}]},
    "mark":{"type":"text","fontSize":8,"fill":"#1A1A1A"},
    "encoding":{"text":{"field":"measure","type":"nominal"}}},
   {"width":145,"height":469,"view":{"fill":"#EBEBEB","stroke":null},
    "encoding":{"x":{"field":"Treatment","type":"nominal","scale":{"paddingInner":0.25,"paddingOuter":0.225},"axis":{"title":null,"labelAngle":90,"labelAlign":"left","labelBaseline":"middle","grid":true,"gridWidth":1,"bandPosition":0.5}}},
    "layer":[
     {"data":{"name":"ptsB"},"transform":[{"filter":"datum.measure == 'InvSimpson'"}],"mark":{"type":"circle","size":14,"opacity":1},"encoding":{"y":{"field":"value","type":"quantitative","scale":{"domain":[2.02,32.42],"nice":false,"zero":false},"axis":{"title":null,"values":[5,10,15,20,25,30],"format":"d","labelExpr":"indexof([10,20,30], datum.value) >= 0 ? datum.label : ''","tickOpacity":{"condition":{"test":"indexof([10,20,30], datum.value) < 0","value":0},"value":1},"gridWidth":{"condition":{"test":"indexof([10,20,30], datum.value) < 0","value":0.5},"value":1}}},"fill":{"field":"Treatment","type":"nominal","scale":{"domain":["EP","NP"],"range":["#1E6B3F","#B2262E"]},"legend":null}}},
     {"data":{"name":"boxB"},"transform":[{"filter":"datum.measure == 'InvSimpson'"}],"mark":{"type":"rule","strokeWidth":1.5},"encoding":{"y":{"field":"lo","type":"quantitative"},"y2":{"field":"q1"},"stroke":{"field":"Treatment","type":"nominal","scale":{"domain":["EP","NP"],"range":["#1E6B3F","#B2262E"]}}}},
     {"data":{"name":"boxB"},"transform":[{"filter":"datum.measure == 'InvSimpson'"}],"mark":{"type":"rule","strokeWidth":1.5},"encoding":{"y":{"field":"q3","type":"quantitative"},"y2":{"field":"hi"},"stroke":{"field":"Treatment","type":"nominal"}}},
     {"data":{"name":"boxB"},"transform":[{"filter":"datum.measure == 'InvSimpson'"}],"mark":{"type":"bar","fill":"#2DA0FF","fillOpacity":0.2,"strokeWidth":1.8},"encoding":{"y":{"field":"q1","type":"quantitative"},"y2":{"field":"q3"},"stroke":{"field":"Treatment","type":"nominal"}}},
     {"data":{"name":"boxB"},"transform":[{"filter":"datum.measure == 'InvSimpson'"}],"mark":{"type":"bar","fillOpacity":0,"strokeWidth":3},"encoding":{"y":{"field":"med","type":"quantitative"},"y2":{"field":"med"},"stroke":{"field":"Treatment","type":"nominal"}}}
    ]}
  ]}
 ]}
]
}
